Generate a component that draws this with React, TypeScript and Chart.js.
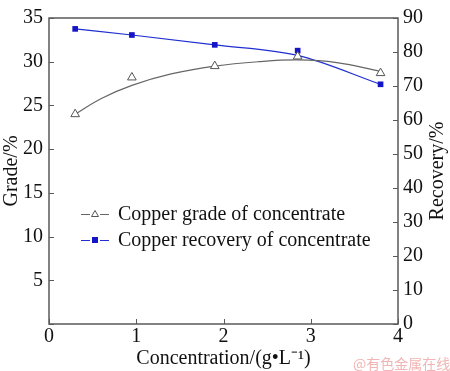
import React, { useEffect, useRef } from "react";
import { Chart, registerables } from "chart.js";

Chart.register(...registerables);

const concentration = [0.3, 0.95, 1.9, 2.85, 3.8];
const gradeValues = [24.0, 28.2, 29.5, 30.6, 28.7];
const recoveryValues = [86.8, 85.0, 82.1, 80.4, 70.5];
const gradeFitX = [0.3, 0.6, 0.95, 1.4, 1.9, 2.4, 2.85, 3.3, 3.8];
const gradeFit = [24.0, 25.8, 27.3, 28.6, 29.5, 30.0, 30.2, 29.9, 28.9];
const recoveryFit = [86.8, 85.0, 82.1, 79.0, 70.5];
const gradeTicks = [0, 5, 10, 15, 20, 25, 30, 35];
const recoveryTicks = [0, 10, 20, 30, 40, 50, 60, 70, 80, 90];
const xTicks = [0, 1, 2, 3, 4];
const legendLabels = ["Copper grade of concentrate", "Copper recovery of concentrate"];

const FONT = "'Liberation Serif', 'Times New Roman', serif";
const FS = 20;
const AXIS_COLOR = "#5a5a5a";
const GRAY = "#666666";
const BLUE = "#1f2fd0";

const pts = (xs: number[], ys: number[]) => xs.map((x, i) => ({ x, y: ys[i] }));

const framePlugin = {
  id: "frame",
  afterDraw(chart: any) {
    const { ctx, chartArea: a, scales } = chart;
    ctx.save();
    ctx.strokeStyle = AXIS_COLOR;
    ctx.lineWidth = 1.5;
    ctx.strokeRect(a.left, a.top, a.right - a.left, a.bottom - a.top);
    const tl = 5;
    ctx.lineWidth = 1;
    ctx.beginPath();
    scales.x.ticks.forEach((t: any) => {
      const px = Math.round(scales.x.getPixelForValue(t.value)) + 0.5;
      ctx.moveTo(px, a.bottom);
      ctx.lineTo(px, a.bottom - tl);
    });
    scales.y.ticks.forEach((t: any) => {
      const py = Math.round(scales.y.getPixelForValue(t.value)) + 0.5;
      ctx.moveTo(a.left, py);
      ctx.lineTo(a.left + tl, py);
    });
    scales.y2.ticks.forEach((t: any) => {
      const py = Math.round(scales.y2.getPixelForValue(t.value)) + 0.5;
      ctx.moveTo(a.right, py);
      ctx.lineTo(a.right - tl, py);
    });
    ctx.stroke();

    // right axis title (bottom-to-top)
    ctx.fillStyle = "#111";
    ctx.font = `${FS}px ${FONT}`;
    ctx.textAlign = "center";
    ctx.textBaseline = "middle";
    ctx.translate(438, (a.top + a.bottom) / 2);
    ctx.rotate(-Math.PI / 2);
    ctx.fillText("Recovery/%", 0, 0);
    ctx.restore();

    // legend
    ctx.save();
    const rows = [
      { y: 214, color: GRAY, label: legendLabels[0], kind: "tri" },
      { y: 240, color: BLUE, label: legendLabels[1], kind: "sq" },
    ];
    rows.forEach((r) => {
      ctx.strokeStyle = r.color;
      ctx.lineWidth = 1.2;
      ctx.beginPath();
      ctx.moveTo(81, r.y + 0.5);
      ctx.lineTo(90, r.y + 0.5);
      ctx.moveTo(100, r.y + 0.5);
      ctx.lineTo(109, r.y + 0.5);
      ctx.stroke();
      if (r.kind === "tri") {
        ctx.fillStyle = "#fff";
        ctx.strokeStyle = "#555";
        ctx.lineWidth = 1;
        ctx.beginPath();
        ctx.moveTo(95, r.y - 3.5);
        ctx.lineTo(98.5, r.y + 2.5);
        ctx.lineTo(91.5, r.y + 2.5);
        ctx.closePath();
        ctx.fill();
        ctx.stroke();
      } else {
        ctx.fillStyle = "#1515c8";
        ctx.fillRect(92, r.y - 3, 6, 6);
      }
      ctx.fillStyle = "#111";
      ctx.font = `${FS}px ${FONT}`;
      ctx.textAlign = "left";
      ctx.textBaseline = "middle";
      ctx.fillText(r.label, 118, r.y + 1);
    });
    ctx.restore();
  },
};

export default function App() {
  const ref = useRef<HTMLCanvasElement | null>(null);

  useEffect(() => {
    if (!ref.current) return;
    const tickFont = { family: FONT, size: FS };
    const chart = new Chart(ref.current, {
      type: "line",
      data: {
        datasets: [
          {
            label: legendLabels[0] + " points",
            data: pts(concentration, gradeValues),
            showLine: false,
            pointStyle: "triangle",
            pointRadius: 5,
            pointBackgroundColor: "#ffffff",
            pointBorderColor: "#555555",
            pointBorderWidth: 1,
            yAxisID: "y",
          },
          {
            label: legendLabels[1] + " points",
            data: pts(concentration, recoveryValues),
            showLine: false,
            pointStyle: "rect",
            pointRadius: 4,
            pointBackgroundColor: "#1515c8",
            pointBorderColor: "#1515c8",
            pointBorderWidth: 0,
            yAxisID: "y2",
          },
          {
            label: legendLabels[0],
            data: pts(gradeFitX, gradeFit),
            borderColor: GRAY,
            borderWidth: 1.2,
            pointRadius: 0,
            tension: 0.4,
            fill: false,
            yAxisID: "y",
          },
          {
            label: legendLabels[1],
            data: pts(concentration, recoveryFit),
            borderColor: BLUE,
            borderWidth: 1.2,
            pointRadius: 0,
            cubicInterpolationMode: "monotone",
            fill: false,
            yAxisID: "y2",
          },
        ],
      },
      options: {
        responsive: false,
        animation: false,
        layout: { padding: { top: 8, left: 0, right: 0, bottom: 0 } },
        plugins: { legend: { display: false }, tooltip: { enabled: false } },
        scales: {
          x: {
            type: "linear",
            min: 0,
            max: 4,
            afterBuildTicks: (s: any) => {
              s.ticks = xTicks.map((v) => ({ value: v }));
            },
            afterFit: (s: any) => {
              s.height = 47;
            },
            grid: { display: false, drawTicks: false },
            border: { display: false },
            ticks: { font: tickFont, color: "#111", padding: 1, maxRotation: 0 },
            title: {
              display: true,
              text: "Concentration/(g\u2022L\u207B\u00B9)",
              font: tickFont,
              color: "#111",
              padding: { top: 0, bottom: 0 },
            },
          },
          y: {
            type: "linear",
            position: "left",
            min: 0,
            max: 35,
            afterBuildTicks: (s: any) => {
              s.ticks = gradeTicks.map((v) => ({ value: v }));
            },
            afterFit: (s: any) => {
              s.width = 49;
            },
            grid: { display: false, drawTicks: false },
            border: { display: false },
            ticks: {
              font: tickFont,
              color: "#111",
              padding: 6,
              callback: (v: any) => (v === 0 ? "" : String(v)),
            },
            title: {
              display: true,
              text: "Grade/%",
              font: tickFont,
              color: "#111",
              padding: { top: 0, bottom: 0 },
            },
          },
          y2: {
            type: "linear",
            position: "right",
            min: 0,
            max: 90,
            afterBuildTicks: (s: any) => {
              s.ticks = recoveryTicks.map((v) => ({ value: v }));
            },
            afterFit: (s: any) => {
              s.width = 52;
            },
            grid: { display: false, drawTicks: false },
            border: { display: false },
            ticks: { font: tickFont, color: "#111", padding: 5 },
          },
        },
      },
      plugins: [framePlugin],
    } as any);
    return () => chart.destroy();
  }, []);

  return (
    <div style={{ position: "fixed", left: 0, top: 0, width: 450, height: 371, background: "#fff" }}>
      <canvas ref={ref} width={450} height={371} style={{ display: "block" }} />
      <span
        style={{
          position: "absolute",
          left: 353,
          top: 353,
          fontFamily: "'Noto Sans CJK SC', sans-serif",
          fontSize: 14,
          color: "#f2b4b4",
          whiteSpace: "nowrap",
        }}
      >
        @有色金属在线
      </span>
    </div>
  );
}
